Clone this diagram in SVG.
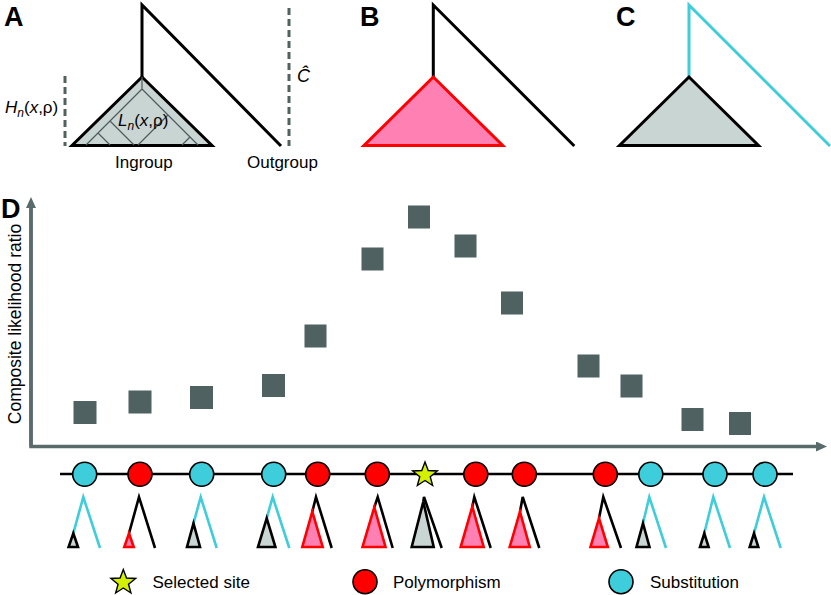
<svg xmlns="http://www.w3.org/2000/svg" width="831" height="595" viewBox="0 0 831 595">
<style>
text{font-family:"Liberation Sans",Arial,sans-serif;fill:#000}
.lbl{font-size:27px;font-weight:bold}
.t{font-size:17px}
.it{font-style:italic}
.sq{fill:#4f6160}
.ax{stroke:#5a6b6b;stroke-width:3.5;fill:none}
.dash{stroke:#506260;stroke-width:3;stroke-dasharray:7,4;fill:none}
.blk{stroke:#000;stroke-width:3;fill:none;stroke-linejoin:miter}
.cy{stroke:#3ecdda;stroke-width:3;fill:none}
.gtri{fill:#c8d5d3;stroke:#000;stroke-width:3;stroke-linejoin:miter}
.ptri{fill:#ff80b2;stroke:#ff0000;stroke-width:3;stroke-linejoin:miter}
.gene{stroke:#4f5a5a;stroke-width:1.2;fill:none}
.site{stroke:#000;stroke-width:1.6}
.pol{fill:#ff0000}
.sub{fill:#3ecdda}
.mb{stroke:#000;stroke-width:2.6;fill:none}
.mc{stroke:#3ecdda;stroke-width:2.6;fill:none}
.mg{fill:#c8d5d3;stroke:#000;stroke-width:2.6}
.mp{fill:#ff80b2;stroke:#ff0000;stroke-width:2.6}
.star{fill:#d2f000;stroke:#000;stroke-width:1.4;stroke-linejoin:miter}
</style>
<defs>
<marker id="arr" markerUnits="userSpaceOnUse" markerWidth="11" markerHeight="10" refX="2" refY="5" orient="auto">
<path d="M0,0 L11,5 L0,10 z" fill="#5a6b6b"/>
</marker>
<polygon id="starshape" points="0,-13 3.23,-4.45 12.36,-4.02 5.23,1.7 7.64,10.52 0,5.5 -7.64,10.52 -5.23,1.7 -12.36,-4.02 -3.23,-4.45"/>
</defs>

<g id="panelA">
<text class="lbl" x="4" y="26">A</text>
<polyline class="blk" points="142,77 142,5 281,146"/>
<polygon class="gtri" points="142,77 72,145.5 212,145.5"/>
<g class="gene">
<path d="M142,77 V89 M142,89 L110,121 M110,121 L86,145 M110,121 L134,145 M98,133 L110,145 M142,89 L168,115 M168,115 L138,145 M168,115 L198,145 M190,137 L182,145"/>
</g>
<line class="dash" x1="65" y1="76" x2="65" y2="146"/>
<line class="dash" x1="289" y1="8" x2="289" y2="146"/>
<text class="t" x="5" y="113"><tspan class="it">H</tspan><tspan class="it" font-size="12" dy="4">n</tspan><tspan dy="-4">(</tspan><tspan class="it">x</tspan><tspan>,ρ)</tspan></text>
<text class="t" x="118" y="126"><tspan class="it">L</tspan><tspan class="it" font-size="12" dy="4">n</tspan><tspan dy="-4">(</tspan><tspan class="it">x</tspan><tspan>,ρ)</tspan></text>
<text class="t it" x="297" y="82" style="font-size:18px">Ĉ</text>
<text class="t" x="115" y="168">Ingroup</text>
<text class="t" x="247" y="168">Outgroup</text>
</g>

<g id="panelB">
<text class="lbl" x="360" y="26">B</text>
<polyline class="blk" points="433.3,77 433.3,5 574.3,146"/>
<polygon class="ptri" points="433.3,77 364,145.5 502.7,145.5"/>
</g>

<g id="panelC">
<text class="lbl" x="616" y="26">C</text>
<polyline class="cy" points="689,77 689,5 830,146"/>
<polygon class="gtri" points="689,77 619.5,145.5 758.5,145.5"/>
</g>

<g id="panelD">
<text class="lbl" x="1" y="218">D</text>
<text class="t" transform="translate(21,324) rotate(-90)" text-anchor="middle" style="font-size:17.5px">Composite likelihood ratio</text>
<g id="axes">
<polyline class="ax" points="31,205 31,446.5 818,446.5" marker-end="url(#arr)"/>
<line class="ax" x1="31" y1="446.5" x2="31" y2="206" marker-end="url(#arr)"/>
</g>
<g id="points">
<rect class="sq" x="73.5" y="401" width="23" height="23"/>
<rect class="sq" x="128.5" y="390.5" width="23" height="23"/>
<rect class="sq" x="190" y="386" width="23" height="23"/>
<rect class="sq" x="262" y="374" width="23" height="23"/>
<rect class="sq" x="304.5" y="324.5" width="22" height="23"/>
<rect class="sq" x="361.5" y="247.5" width="22" height="23"/>
<rect class="sq" x="408" y="205.5" width="22" height="23"/>
<rect class="sq" x="454.5" y="234.5" width="22" height="23"/>
<rect class="sq" x="501" y="291.5" width="22" height="23"/>
<rect class="sq" x="577.5" y="354.5" width="22" height="23"/>
<rect class="sq" x="620.5" y="374.5" width="22" height="23"/>
<rect class="sq" x="681.5" y="408" width="22" height="23"/>
<rect class="sq" x="729" y="412" width="22" height="23"/>
</g>
</g>

<g id="connectors">
<line x1="60" y1="474" x2="793" y2="474" stroke="#000" stroke-width="2.6"/>
</g>

<g id="sites">
<circle id="s1" class="site sub" cx="84.7" cy="474.3" r="12"/>
<circle id="s2" class="site pol" cx="140" cy="474.3" r="12"/>
<circle id="s3" class="site sub" cx="201.7" cy="474.3" r="12"/>
<circle id="s4" class="site sub" cx="273.7" cy="474.3" r="12"/>
<circle id="s5" class="site pol" cx="317.7" cy="474.3" r="12"/>
<circle id="s6" class="site pol" cx="377.3" cy="474.3" r="12"/>
<use id="s7" href="#starshape" class="star" transform="translate(425,475)"/>
<circle id="s8" class="site pol" cx="475.8" cy="474.3" r="12"/>
<circle id="s9" class="site pol" cx="524.3" cy="474.3" r="12"/>
<circle id="s10" class="site pol" cx="605.3" cy="474.3" r="12"/>
<circle id="s11" class="site sub" cx="650.8" cy="474.3" r="12"/>
<circle id="s12" class="site sub" cx="715" cy="474.3" r="12"/>
<circle id="s13" class="site sub" cx="765" cy="474.3" r="12"/>
</g>

<g id="trees">
<g id="t1"><polyline class="mc" points="73.3,533.3 83.3,497 100,548"/><polygon class="mg" points="73.3,533.3 68.6,547 78,547"/></g>
<g id="t2"><polyline class="mb" points="129,533.3 139,497 155,548"/><polygon class="mp" points="129,533.3 124.3,547 133.7,547"/></g>
<g id="t3"><polyline class="mc" points="193.5,523.3 200.7,497 216.7,548"/><polygon class="mg" points="193.5,523.3 187,547 200,547"/></g>
<g id="t4"><polyline class="mc" points="266.7,518.3 272.7,497 289.3,548"/><polygon class="mg" points="266.7,518.3 258,547 275.4,547"/></g>
<g id="t5"><polyline class="mb" points="312.3,511.7 316,497 331.7,548"/><polygon class="mp" points="312.3,511.7 302.3,547 322.7,547"/></g>
<g id="t6"><polyline class="mb" points="374.3,507.3 377.7,497 392.7,548"/><polygon class="mp" points="374.3,507.3 362.5,547 385.5,547"/></g>
<g id="t7"><polyline class="mb" points="423.3,501.7 424,497 441.7,548"/><polygon class="mg" points="423.3,501.7 411.7,547 433.7,547"/></g>
<g id="t8"><polyline class="mb" points="472.3,506.7 474.3,497 490.7,548"/><polygon class="mp" points="472.3,506.7 460.7,547 483.7,547"/></g>
<g id="t9"><polyline class="mb" points="520,511.7 522.7,497 539.3,548"/><polygon class="mp" points="520,511.7 509.7,547 529.7,547"/></g>
<g id="t10"><polyline class="mb" points="599,518.3 603.3,497 621,548"/><polygon class="mp" points="599,518.3 590.5,547 607.8,547"/></g>
<g id="t11"><polyline class="mc" points="643,523.3 649.3,497 666,548"/><polygon class="mg" points="643,523.3 636.5,547 649.5,547"/></g>
<g id="t12"><polyline class="mc" points="704.3,533.3 713.3,497 730,548"/><polygon class="mg" points="704.3,533.3 700,547 708.6,547"/></g>
<g id="t13"><polyline class="mc" points="754,533.3 764,497 780.7,548"/><polygon class="mg" points="754,533.3 749.7,547 758.3,547"/></g>
</g>

<g id="legend">
<g id="leg-star"><use href="#starshape" class="star" transform="translate(123.3,582.5)"/><text class="t" x="152.5" y="587.5">Selected site</text></g>
<g id="leg-pol"><circle class="site pol" cx="365" cy="581.7" r="12"/><text class="t" x="393" y="587.5">Polymorphism</text></g>
<g id="leg-sub"><circle class="site sub" cx="621" cy="581.7" r="12"/><text class="t" x="650" y="587.5">Substitution</text></g>
</g>
</svg>
